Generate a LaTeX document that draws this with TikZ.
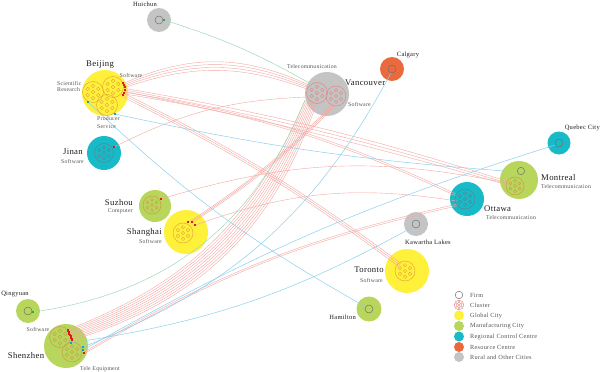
\documentclass[tikz,border=0pt]{standalone}
\usepackage{fontspec}
\setmainfont{Liberation Serif}[LetterSpace=4]
\usetikzlibrary{calc}
\definecolor{gcity}{RGB}{255,240,58}
\definecolor{mcity}{RGB}{184,214,92}
\definecolor{rcc}{RGB}{24,186,200}
\definecolor{resc}{RGB}{234,106,62}
\definecolor{rural}{RGB}{196,196,196}
\definecolor{redl}{RGB}{244,168,163}
\definecolor{bluel}{RGB}{140,208,238}
\definecolor{greenl}{RGB}{160,218,182}
\definecolor{mkred}{RGB}{215,30,30}
\definecolor{mkblue}{RGB}{30,150,220}
\definecolor{mkgreen}{RGB}{40,170,80}
\definecolor{clor}{RGB}{226,160,60}
\definecolor{clbr}{RGB}{205,150,70}
\definecolor{clpk}{RGB}{226,130,125}
\definecolor{clgy}{RGB}{90,130,140}
\definecolor{firmc}{RGB}{110,110,110}
\definecolor{namec}{RGB}{30,30,30}
\definecolor{subc}{RGB}{85,85,85}
\tikzset{
  redlink/.style={draw=redl, line width=0.4pt},
  bluelink/.style={draw=bluel, line width=0.5pt},
  greenlink/.style={draw=greenl, line width=0.5pt},
  cityname/.style={font=\fontsize{8.7}{10}\selectfont, text=namec, inner sep=0pt},
  smallname/.style={font=\fontsize{6.5}{8}\selectfont, text=namec, inner sep=0pt},
  sub/.style={font=\fontsize{5.8}{7}\selectfont, text=subc, inner sep=0pt},
  legtext/.style={font=\fontsize{6.3}{7}\selectfont, text=subc, anchor=west, inner sep=0pt},
  firm/.style={draw=firmc, line width=0.45pt},
}
% bundle: from, to, n, start step x, y, end step x, y, to-options (may use \m), style
\newcommand\bund[9]{%
  \foreach \k in {1,...,#3}{%
    \pgfmathsetmacro\m{\k-(#3+1)/2}%
    \draw[#9] ($(#1)+({\m*#4},{\m*#5})$) to[#8] ($(#2)+({\m*#6},{\m*#7})$);
  }}
% cluster: name, x, y, r, color
\newcommand\clus[5]{%
  \coordinate (#1) at (#2,#3);
  \draw[#5, line width=0.45pt] (#1) circle[radius=#4pt];
  \foreach \a in {30,90,...,330}
    \draw[#5, line width=0.35pt] (#1) ++(\a:{0.58*#4pt}) circle[radius={0.17*#4pt}];
  \draw[#5, line width=0.35pt] (#1) circle[radius={0.17*#4pt}];
}
\newcommand\mk[2]{\fill[#2] (#1) +(-1.1,-1.1) rectangle +(1.1,1.1);}
\begin{document}
\begin{tikzpicture}[x=1pt,y=-1pt]
\useasboundingbox (0,0) rectangle (600,372);
\fill[white] (0,0) rectangle (600,372);
% city disks
\fill[rural] (159,20) circle[radius=12pt];
\fill[gcity] (105,93) circle[radius=23pt];
\fill[rcc] (104,153) circle[radius=17pt];
\fill[rural] (327,94) circle[radius=22pt];
\fill[resc] (392,69) circle[radius=12pt];
\fill[rcc] (559,143) circle[radius=11.5pt];
\fill[mcity] (519,180) circle[radius=19pt];
\fill[rcc] (467,199) circle[radius=17pt];
\fill[mcity] (155,206) circle[radius=16pt];
\fill[gcity] (186,232) circle[radius=22pt];
\fill[mcity] (28,311) circle[radius=12pt];
\fill[mcity] (66,346) circle[radius=22pt];
\fill[rural] (416,224) circle[radius=12pt];
\fill[gcity] (407,271) circle[radius=22pt];
\fill[mcity] (369,309) circle[radius=12.5pt];
% ports
\coordinate (bjv) at (124,85.5);
\coordinate (bjm) at (125,90);
\coordinate (bjo) at (124,93);
\coordinate (bjt) at (123,95);
\coordinate (bjSR) at (88,102);
\coordinate (bjPS) at (115,114);
\coordinate (vanA) at (308,87);
\coordinate (vanB) at (306,97);
\coordinate (vanC) at (311,101);
\coordinate (vanD) at (333,106);
\coordinate (vanE) at (311,84);
\coordinate (vanF) at (305,100);
\coordinate (monC) at (507,183);
\coordinate (monF) at (518,172);
\coordinate (ottA) at (456,195);
\coordinate (ottB) at (457,201);
\coordinate (ottC) at (457,205);
\coordinate (torC) at (400,265);
\coordinate (jnp) at (114,147);
\coordinate (shA) at (191,222);
\coordinate (shB) at (195,225);
\coordinate (suzp) at (161,199);
\coordinate (szU) at (70,335);
\coordinate (szB) at (71,343);
\coordinate (szL1) at (83,347);
\coordinate (szL2) at (83,350);
\coordinate (szR) at (84,353);
\coordinate (calp) at (391,73);
\coordinate (quep) at (555,145);
\coordinate (kawp) at (413,227);
\coordinate (hamp) at (366,307);
\coordinate (huip) at (164,20);
\coordinate (qinp) at (33,312);
% red links
\bund{bjv}{vanA}{4}{0.2}{1.5}{0}{1.6}{bend left={22-1.5*\m}}{redlink}
\bund{bjm}{monC}{3}{0}{1.6}{0}{1.8}{bend left={3-0.8*\m}}{redlink}
\bund{bjo}{ottA}{2}{0}{1.8}{0}{2}{bend left=8}{redlink}
\bund{bjt}{torC}{3}{1}{-1.6}{1}{-1.6}{bend left=5}{redlink}
\draw[redlink] (jnp) to[bend left=12] (vanB);
\bund{shA}{vanD}{3}{1.6}{0.4}{1.6}{0.3}{bend right=6}{redlink}
\draw[redlink] (shB) to[bend left=14] (ottB);
\draw[redlink] (suzp) to[bend left=14] (monC);
\bund{szU}{vanC}{9}{0.6}{1.3}{1.5}{0.2}{bend right={25+0.55*\m}}{redlink}
\bund{szR}{ottC}{2}{0.4}{1.4}{0}{1.8}{bend left=9}{redlink}
% blue links
\draw[bluelink] (szL1) to[bend right=20] (calp);
\draw[bluelink] (szL2) to[bend left=6] (quep);
\draw[bluelink] (szB) to[bend right=10] (kawp);
\draw[bluelink] (bjSR) to[bend right=7] (hamp);
\draw[bluelink] (bjPS) to[bend right=4] (monF);
% green links
\draw[greenlink] (huip) to[bend left=6] (vanE);
\draw[greenlink] (qinp) to[bend right=30] (vanF);
% clusters
\clus{bj1}{93}{92}{10.5}{clor}
\clus{bj2}{113}{87}{10.5}{clor}
\clus{bj3}{107}{105}{10.5}{clor}
\clus{jn}{104}{153}{9.5}{clgy}
\clus{van1}{317}{93}{10.5}{clpk}
\clus{van2}{336}{96}{10}{clpk}
\clus{mon}{515}{186}{9}{clbr}
\clus{ott}{465}{199}{10}{clgy}
\clus{suz}{152}{205}{9}{clbr}
\clus{sh}{183}{233}{10}{clor}
\clus{sz1}{60}{337}{10.5}{clbr}
\clus{sz2}{72}{352}{10}{clbr}
\clus{tor}{405}{271}{10}{clor}
% firms
\draw[firm] (159,20) circle[radius=4pt];
\draw[firm] (392,69) circle[radius=4pt];
\draw[firm] (559,143) circle[radius=4pt];
\draw[firm] (521,171) circle[radius=3.7pt];
\draw[firm] (28,311) circle[radius=4pt];
\draw[firm] (416,224) circle[radius=4pt];
\draw[firm] (369,309) circle[radius=4pt];
% markers
\foreach \p in {(123,83),(124,85),(125,87),(125,90),(124,93),(123,95)} \fill[mkred] \p +(-1.1,-1.1) rectangle +(1.1,1.1);
\foreach \p in {(188,222),(192,222),(195,225)} \fill[mkred] \p +(-1.1,-1.1) rectangle +(1.1,1.1);
\foreach \k in {1,...,9}{\pgfmathsetmacro\m{\k-5}\fill[mkred] ($(szU)+({\m*0.6},{\m*1.3})$) +(-1,-1) rectangle +(1,1);}
\mk{jnp}{mkred}
\mk{suzp}{mkred}
\mk{szR}{mkred}
\mk{szB}{mkblue}
\mk{szL1}{mkblue}
\mk{szL2}{mkblue}
\mk{bjSR}{mkblue}
\mk{bjPS}{mkblue}
\mk{huip}{mkgreen}
\mk{qinp}{mkgreen}
% labels
\node[smallname] (tHui) at (145,4) {Huichun};
\node[cityname] (tBj) at (100,65) {Beijing};
\node[sub] (tBjS) at (131,75) {Software};
\node[sub, anchor=west] (tBjR1) at (57,83) {Scientific};
\node[sub, anchor=west] (tBjR2) at (57,90) {Research};
\node[sub, anchor=west] (tBjP1) at (97,119) {Producer};
\node[sub, anchor=west] (tBjP2) at (97,127) {Service};
\node[cityname, anchor=east] (tJn) at (83,152) {Jinan};
\node[sub, anchor=east] (tJnS) at (84,161) {Software};
\node[cityname, anchor=west] (tVan) at (345,83) {Vancouver};
\node[sub] (tVanT) at (312,67) {Telecommunication};
\node[sub, anchor=west] (tVanS) at (348,104) {Software};
\node[smallname] (tCal) at (408,55) {Calgary};
\node[smallname, anchor=east] (tQue) at (600,128) {Quebec City};
\node[cityname, anchor=west] (tMon) at (541,178) {Montreal};
\node[sub, anchor=west] (tMonT) at (541,187) {Telecommunication};
\node[cityname, anchor=west] (tOtt) at (484,209) {Ottawa};
\node[sub, anchor=west] (tOttT) at (486,218) {Telecommunication};
\node[cityname, anchor=east] (tSuz) at (133,203) {Suzhou};
\node[sub, anchor=east] (tSuzC) at (133,211) {Computer};
\node[cityname, anchor=east] (tSh) at (162,232) {Shanghai};
\node[sub, anchor=east] (tShS) at (162,241) {Software};
\node[smallname] (tQin) at (15,294) {Qingyuan};
\node[sub] (tQinS) at (38,329) {Software};
\node[cityname] (tSz) at (26,356) {Shenzhen};
\node[sub] (tSzT) at (100,369) {Tele Equipment};
\node[smallname] (tKaw) at (428,242) {Kawartha Lakes};
\node[cityname, anchor=east] (tTor) at (384,270) {Toronto};
\node[sub, anchor=east] (tTorS) at (383,280) {Software};
\node[smallname, anchor=east] (tHam) at (356,317) {Hamilton};
% legend
\draw[firm] (459,295) circle[radius=3.8pt];
\node[legtext] (l1) at (470,295) {Firm};
\clus{lgc}{459}{305}{4.8}{clpk}
\node[legtext] (l2) at (470,305) {Cluster};
\fill[gcity] (459,315.5) circle[radius=5pt];
\node[legtext] (l3) at (470,315.5) {Global City};
\fill[mcity] (459,326) circle[radius=5pt];
\node[legtext] (l4) at (470,326) {Manufacturing City};
\fill[rcc] (459,336.5) circle[radius=5pt];
\node[legtext] (l5) at (470,336.5) {Regional Control Centre};
\fill[resc] (459,347) circle[radius=5pt];
\node[legtext] (l6) at (470,347) {Resource Centre};
\fill[rural] (459,357) circle[radius=5pt];
\node[legtext] (l7) at (470,357) {Rural and Other Cities};
\end{tikzpicture}
\end{document}
